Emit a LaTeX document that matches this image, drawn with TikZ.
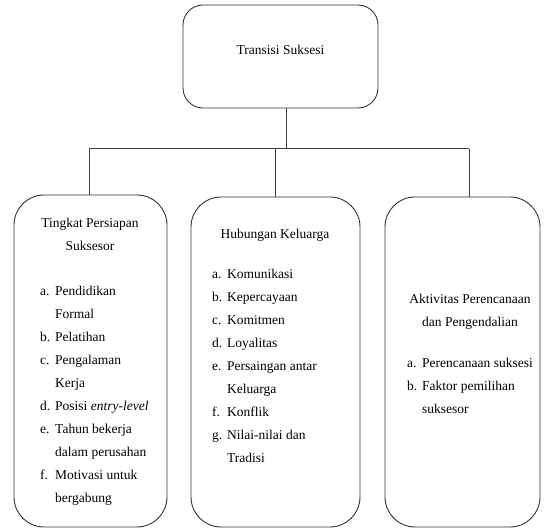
\documentclass[tikz,border=0pt]{standalone}
\usepackage{fontspec}
\setmainfont{Liberation Serif}
\begin{document}
\begin{tikzpicture}[x=1pt,y=-1pt,
  box/.style={draw=black!80, line width=0.9pt, rounded corners=#1, inner sep=0pt},
  box/.default=30pt,
  conn/.style={draw=black!75, line width=1pt},
  txt/.style={inner sep=0pt, font=\fontsize{13.5}{23}\selectfont, align=center},
  lst/.style={inner sep=0pt, font=\fontsize{13.5}{23}\selectfont, align=left, anchor=north west}
]
\useasboundingbox (0,0) rectangle (544,529);
\node[box=20pt, minimum width=195pt, minimum height=103pt] (T) at (280.5,56.5) {};
\node[txt] (Tt) at (280.5,50) {Transisi Suksesi};
\node[box, minimum width=153pt, minimum height=332pt] (L) at (90.5,361) {};
\node[box, minimum width=169pt, minimum height=330pt] (M) at (275.5,362) {};
\node[box, minimum width=155pt, minimum height=330pt] (R) at (462.5,362) {};
% connectors
\coordinate (j) at (286,149);
\coordinate (jl) at (89,149);
\coordinate (jm) at (275,149);
\coordinate (jr) at (469,149);
\draw[conn] (T.south -| j) -- (j);
\draw[conn] (jl) -- (jr);
\draw[conn] (jl) -- (L.north -| jl);
\draw[conn] (jm) -- (M.north -| jm);
\draw[conn] (jr) -- (R.north -| jr);
% left texts
\newcommand{\itm}[2]{\makebox[15pt][l]{#1}#2}
\newcommand{\cnt}[1]{\hspace*{15pt}#1}
\node[txt, anchor=north] (Lt) at (90,218) {Tingkat Persiapan\\Suksesor};
\node[lst] (Ll) at (40,286) {\itm{a.}{Pendidikan}\\\cnt{Formal}\\\itm{b.}{Pelatihan}\\\itm{c.}{Pengalaman}\\\cnt{Kerja}\\\itm{d.}{Posisi \textit{entry-level}}\\\itm{e.}{Tahun bekerja}\\\cnt{dalam perusahan}\\\itm{f.}{Motivasi untuk}\\\cnt{bergabung}};
% middle texts
\node[txt, anchor=north] (Mt) at (275,229) {Hubungan Keluarga};
\node[lst] (Ml) at (212,269) {\itm{a.}{Komunikasi}\\\itm{b.}{Kepercayaan}\\\itm{c.}{Komitmen}\\\itm{d.}{Loyalitas}\\\itm{e.}{Persaingan antar}\\\cnt{Keluarga}\\\itm{f.}{Konflik}\\\itm{g.}{Nilai-nilai dan}\\\cnt{Tradisi}};
% right texts
\node[txt, anchor=north] (Rt) at (470,294) {Aktivitas Perencanaan\\dan Pengendalian};
\node[lst] (Rl) at (407,358) {\itm{a.}{Perencanaan suksesi}\\\itm{b.}{Faktor pemilihan}\\\cnt{suksesor}};
\end{tikzpicture}
\end{document}
